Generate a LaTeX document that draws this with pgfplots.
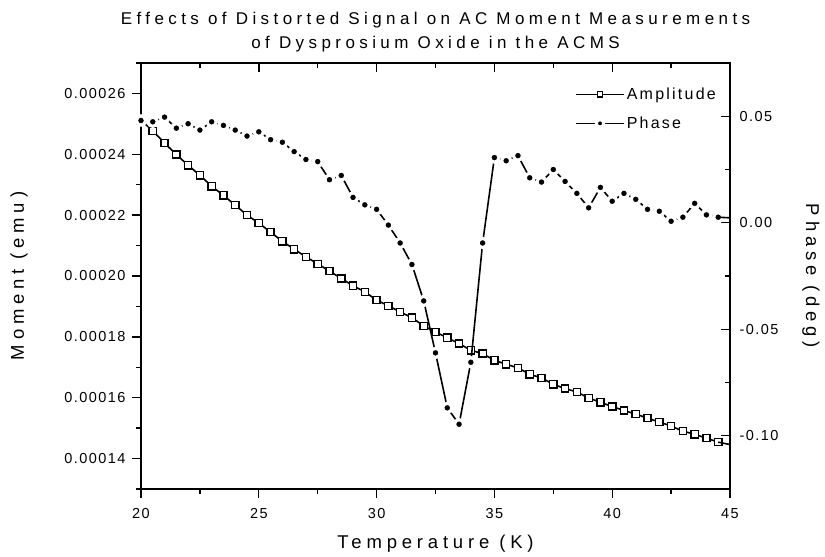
\documentclass[border=0pt]{standalone}
\usepackage{fontspec}
\setmainfont{Liberation Sans}
\newfontfamily\ttlfont{Liberation Sans}[LetterSpace=26]
\newfontfamily\lblfont{Liberation Sans}[LetterSpace=26]
\newfontfamily\tckfont{Liberation Sans}[LetterSpace=10]
\newfontfamily\legfont{Liberation Sans}[LetterSpace=14]
\usepackage{pgfplots}
\usepackage{pgfplotstable}
\pgfplotsset{compat=1.18}

\pgfplotstableread{
x y
20 0.0002512
20.5 0.0002477
21 0.0002437
21.5 0.0002399
22 0.0002364
22.5 0.0002331
23 0.0002295
23.5 0.0002265
24 0.0002233
24.5 0.0002200
25 0.0002174
25.5 0.0002144
26 0.0002114
26.5 0.0002088
27 0.0002063
27.5 0.0002040
28 0.0002016
28.5 0.0001992
29 0.0001968
29.5 0.0001948
30 0.0001921
30.5 0.0001902
31 0.0001882
31.5 0.0001863
32 0.0001836
32.5 0.0001816
33 0.0001797
33.5 0.0001778
34 0.0001756
34.5 0.0001745
35 0.0001723
35.5 0.0001710
36 0.0001698
36.5 0.0001677
37 0.0001665
37.5 0.0001644
38 0.0001630
38.5 0.0001619
39 0.0001599
39.5 0.0001585
40 0.0001571
40.5 0.0001558
41 0.0001546
41.5 0.0001533
42 0.0001520
42.5 0.0001507
43 0.0001490
43.5 0.0001480
44 0.0001467
44.5 0.0001454
}\amptable

\pgfplotstableread{
x y
20 0.0480
20.5 0.0474
21 0.0496
21.5 0.0444
22 0.0465
22.5 0.0435
23 0.0474
23.5 0.0457
24 0.0435
24.5 0.0407
25 0.0427
25.5 0.0390
26 0.0378
26.5 0.0334
27 0.0297
27.5 0.0287
28 0.0202
28.5 0.0222
29 0.0119
29.5 0.0084
30 0.0063
30.5 -0.0011
31 -0.0095
31.5 -0.0196
32 -0.0367
32.5 -0.0611
33 -0.0869
33.5 -0.0946
34 -0.0655
34.5 -0.0095
35 0.0306
35.5 0.0291
36 0.0315
36.5 0.0211
37 0.0191
37.5 0.0250
38 0.0194
38.5 0.0138
39 0.0070
39.5 0.0166
40 0.0101
40.5 0.0138
41 0.0110
41.5 0.0063
42 0.0054
42.5 0.0007
43 0.0026
43.5 0.0091
44 0.0037
44.5 0.0026
}\phtable

\begin{document}
\begin{tikzpicture}
\useasboundingbox (-141bp,-68bp) rectangle (684bp,489bp);
\pgfplotsset{
  common/.style={
    scale only axis, width=589bp, height=426bp,
    xmin=20, xmax=45,
    clip mode=individual,
    axis line style={line width=1.8bp},
    every tick/.style={line width=1.4bp, black},
    major tick length=9bp, minor tick length=5bp,
    /pgf/number format/assume math mode=true,
    ticklabel style={font=\tckfont\fontsize{14.5bp}{16bp}\selectfont},
    xtick={20,25,30,35,40,45},
    minor xtick={22.5,27.5,32.5,37.5,42.5},
  }
}
\begin{axis}[common,
  ymin=0.00013, ymax=0.00027,
  tick align=outside,
  xtick pos=bottom, ytick pos=left,
  ytick={0.00014,0.00016,0.00018,0.00020,0.00022,0.00024,0.00026},
  minor ytick={0.00013,0.00015,0.00017,0.00019,0.00021,0.00023,0.00025,0.00027},
  scaled y ticks=false,
  yticklabel style={/pgf/number format/fixed, /pgf/number format/precision=5, /pgf/number format/fixed zerofill, xshift=-3bp},
  xticklabel style={yshift=-7bp},
  xlabel={Temperature (K)},
  ylabel={Moment (emu)},
  xlabel style={font=\lblfont\fontsize{18.5bp}{20bp}\selectfont, at={(axis description cs:0.5,-0.128)}, anchor=center},
  ylabel style={font=\lblfont\fontsize{18.5bp}{20bp}\selectfont, at={(axis description cs:-0.207,0.5)}, anchor=center},
]
\addplot[black, line width=1.6bp, mark=square*, mark size=3.6bp, mark options={fill=white, line width=1.4bp}] table[x=x,y=y] {\amptable};
\addplot[black, line width=1.6bp, forget plot] coordinates {(44.5,0.0001454) (45,0.0001446)};
\node[font=\ttlfont\fontsize{17bp}{20bp}\selectfont, anchor=base] at (axis description cs:0.5,1.0892) {Effects of Distorted Signal on AC Moment Measurements};
\node[font=\ttlfont\fontsize{17bp}{20bp}\selectfont, anchor=base] at (axis description cs:0.5,1.0345) {of Dysprosium Oxide in the ACMS};
\end{axis}
\begin{axis}[common,
  ymin=-0.125, ymax=0.075,
  tick align=inside,
  xtick pos=top, ytick pos=right,
  xticklabels={},
  ytick={-0.10,-0.05,0,0.05},
  minor ytick={-0.125,-0.075,-0.025,0.025,0.075},
  yticklabel style={/pgf/number format/fixed, /pgf/number format/precision=2, /pgf/number format/fixed zerofill, xshift=6bp},
  ylabel={Phase (deg)},
  ylabel style={font=\lblfont\fontsize{18.5bp}{20bp}\selectfont, at={(axis description cs:1.1375,0.5)}, anchor=center, rotate=180},
  legend style={draw=none, fill=none, at={(axis description cs:0.737,0.947)}, anchor=north west,
    font=\legfont\fontsize{16bp}{18bp}\selectfont, row sep=12bp, inner sep=0bp},
  legend cell align=left,
  legend image code/.code={\draw[mark repeat=2,mark phase=2,#1] plot coordinates {(0bp,0bp) (24bp,0bp) (48bp,0bp)};},
]
\addplot[black, line width=1.6bp, mark=*, mark size=4.6bp, mark options={draw=white, fill=black, line width=3.2bp}, forget plot] table[x=x,y=y] {\phtable};
\addplot[black, line width=1.6bp, forget plot] coordinates {(44.5,0.0026) (45,0.0023)};
\addlegendimage{black, line width=1.5bp, mark=square*, mark size=2.6bp, mark options={fill=white, line width=1.3bp}}
\addlegendentry{Amplitude}
\addlegendimage{black, line width=1.5bp, mark=*, mark size=3.6bp, mark options={draw=white, fill=black, line width=2.8bp}}
\addlegendentry{Phase}
\end{axis}
\end{tikzpicture}
\end{document}
